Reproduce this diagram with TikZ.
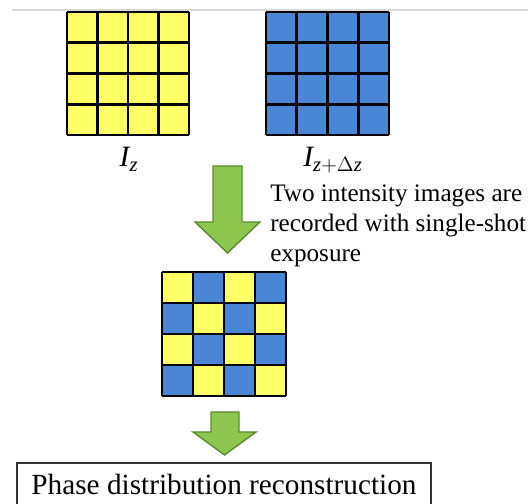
\RequirePackage{fix-cm}
\documentclass[tikz,border=0pt]{standalone}
\usepackage{fontspec}
\setmainfont{Liberation Serif}
\usetikzlibrary{calc}

\definecolor{pixyellow}{RGB}{255,255,102}
\definecolor{pixblue}{RGB}{74,134,214}
\definecolor{arrowgreen}{RGB}{140,198,78}
\definecolor{arrowedge}{RGB}{92,138,48}

\tikzset{
	gridline/.style={line width=2pt, black},
	bigarrow/.style={fill=arrowgreen, draw=arrowedge, line width=1pt, line join=miter},
}

\begin{document}
\begin{tikzpicture}[x=0.025cm,y=-0.025cm]

	\useasboundingbox (0,0) rectangle (528,504);
	\clip (0,0) rectangle (528,504);
	\draw[black!15, line width=0.8pt](12,10)--(528,10);

	% first image, all yellow
	\begin{scope}[shift={(67,12)}]
		\fill[pixyellow](0,0) rectangle (122,123);
		\foreach \i in {0,...,4}{
			\draw[gridline](\i*30.5,0)--(\i*30.5,123);
			\draw[gridline](0,\i*30.75)--(122,\i*30.75);
		}
	\end{scope}

	% second image, all blue
	\begin{scope}[shift={(266,12)}]
		\fill[pixblue](0,0) rectangle (123,123);
		\foreach \i in {0,...,4}{
			\draw[gridline](\i*30.75,0)--(\i*30.75,123);
			\draw[gridline](0,\i*30.75)--(123,\i*30.75);
		}
	\end{scope}

	\node[font=\fontsize{21}{24}\selectfont, anchor=base] (lz) at (129,167){$\mathit{I}_{\mathit{z}}$};
	\node[font=\fontsize{21}{24}\selectfont, anchor=base] (lzdz) at (333,167){$\mathit{I}_{\mathit{z}+\Delta\mathit{z}}$};

	% single-shot arrow
	\draw[bigarrow](213,166)--(242,166)--(242,222)--(260,222)--(227.5,253)--(195,222)--(213,222)--cycle;

	\node[font=\fontsize{17.9}{21.3}\selectfont, anchor=north west, align=left, inner sep=0pt] (note) at (270,185){Two intensity images are\\recorded with single-shot\\exposure};

	% checkerboard of both images
	\begin{scope}[shift={(162,272)}]
		\fill[pixyellow](0,0) rectangle (124,124);
		\foreach \c/\r in {1/0,3/0,0/1,2/1,1/2,3/2,0/3,2/3}
			\fill[pixblue](\c*31,\r*31) rectangle ++(31,31);
		\foreach \i in {0,...,4}{
			\draw[gridline](\i*31,0)--(\i*31,124);
			\draw[gridline](0,\i*31)--(124,\i*31);
		}
	\end{scope}

	% reconstruction arrow
	\draw[bigarrow](211,412)--(239,412)--(239,432)--(256,432)--(224.5,455)--(193,432)--(211,432)--cycle;

	\draw[black!80, line width=0.9pt](17,463) rectangle (431,530);
	\node[font=\fontsize{20.8}{24}\selectfont, anchor=base] (phase) at (224,495){Phase distribution reconstruction};

\end{tikzpicture}
\end{document}
